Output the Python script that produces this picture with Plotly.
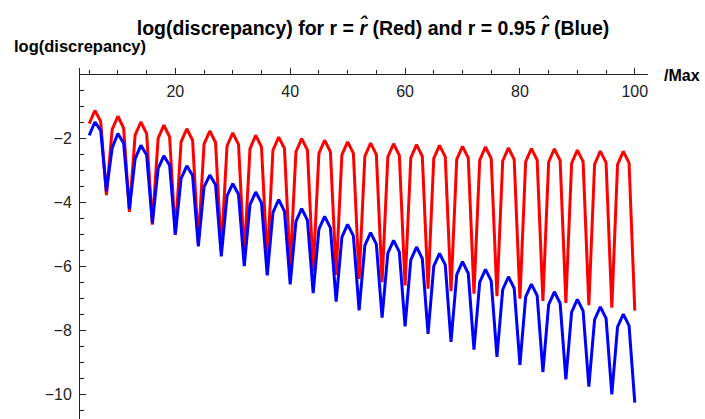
import numpy as np
import plotly.graph_objects as go

# x = 5 .. 100
x_vals = list(range(5, 101))

red_vals = [
    -1.54, -1.13, -1.47, -3.78,
    -1.72, -1.31, -1.68, -4.30,
    -1.90, -1.49, -1.85, -4.70,
    -2.00, -1.59, -1.95, -5.02,
    -2.11, -1.70, -2.06, -5.28,
    -2.18, -1.77, -2.13, -5.50,
    -2.24, -1.83, -2.19, -5.70,
    -2.32, -1.91, -2.27, -5.87,
    -2.37, -1.96, -2.32, -6.03,
    -2.42, -2.01, -2.37, -6.16,
    -2.47, -2.06, -2.42, -6.27,
    -2.52, -2.11, -2.47, -6.40,
    -2.56, -2.15, -2.51, -6.50,
    -2.58, -2.17, -2.53, -6.60,
    -2.61, -2.20, -2.56, -6.70,
    -2.63, -2.22, -2.58, -6.78,
    -2.66, -2.25, -2.61, -6.86,
    -2.68, -2.27, -2.63, -6.94,
    -2.71, -2.30, -2.66, -7.02,
    -2.73, -2.32, -2.68, -7.09,
    -2.74, -2.33, -2.69, -7.15,
    -2.78, -2.37, -2.73, -7.22,
    -2.81, -2.40, -2.76, -7.30,
    -2.82, -2.41, -2.77, -7.39,
]

blue_vals = [
    -1.91, -1.49, -1.75, -3.66,
    -2.30, -1.85, -2.15, -4.21,
    -2.64, -2.22, -2.52, -4.65,
    -2.95, -2.55, -2.84, -5.01,
    -3.26, -2.86, -3.16, -5.38,
    -3.52, -3.15, -3.45, -5.69,
    -3.80, -3.42, -3.75, -6.00,
    -4.07, -3.68, -4.02, -6.29,
    -4.32, -3.92, -4.28, -6.57,
    -4.60, -4.20, -4.56, -6.84,
    -4.84, -4.44, -4.80, -7.11,
    -5.09, -4.69, -5.05, -7.38,
    -5.35, -4.95, -5.31, -7.61,
    -5.59, -5.19, -5.55, -7.88,
    -5.80, -5.40, -5.76, -8.12,
    -6.00, -5.60, -5.96, -8.37,
    -6.26, -5.86, -6.22, -8.61,
    -6.50, -6.10, -6.46, -8.84,
    -6.73, -6.33, -6.69, -9.09,
    -6.96, -6.56, -6.92, -9.31,
    -7.20, -6.80, -7.16, -9.54,
    -7.44, -7.04, -7.40, -9.77,
    -7.67, -7.27, -7.63, -10.01,
    -7.90, -7.50, -7.86, -10.27,
]

x_tick_vals = [20, 40, 60, 80, 100]
y_tick_vals = [-10, -8, -6, -4, -2]

FONT = "Liberation Sans, Arial, Helvetica, sans-serif"
AXIS_COLOR = "#222222"

fig = go.Figure()
fig.add_trace(go.Scatter(x=x_vals, y=red_vals, mode="lines",
                         line=dict(color="#ff0000", width=3), showlegend=False))
fig.add_trace(go.Scatter(x=x_vals, y=blue_vals, mode="lines",
                         line=dict(color="#0000ff", width=3), showlegend=False))

W, H = 705, 419
ml, mr, mt, mb = 80, 57, 67.6, 0
plot_h = H - mt - mb
y_lo, y_hi = -10.78, 0.2
x_lo, x_hi = 3.4, 102.3
zero_pos = (0 - y_lo) / (y_hi - y_lo)

fig.update_layout(
    width=W, height=H,
    margin=dict(l=ml, r=mr, t=mt, b=mb, pad=0),
    paper_bgcolor="white", plot_bgcolor="white",
    font=dict(family=FONT, color="#222222"),
    title=dict(
        text="log(discrepancy) for r = <i>r\u0302</i> (Red) and r = 0.95 <i>r\u0302</i> (Blue)",
        x=373 / W, xanchor="center", y=1 - 28 / H, yanchor="middle",
        font=dict(family=FONT, size=19.5, color="black", weight="bold"),
    ),
    xaxis=dict(
        range=[x_lo, x_hi], anchor="free", position=zero_pos, side="bottom",
        showline=True, linecolor=AXIS_COLOR, linewidth=1,
        showgrid=False, zeroline=False,
        tickmode="array", tickvals=x_tick_vals,
        ticks="inside", ticklen=6, tickcolor=AXIS_COLOR, tickwidth=1,
        tickfont=dict(size=16, color="#222222", family=FONT),
        ticklabelstandoff=2,
        minor=dict(tickvals=list(np.arange(5, 101, 5)), ticks="inside",
                   ticklen=4, tickcolor=AXIS_COLOR, tickwidth=1, showgrid=False),
    ),
    yaxis=dict(
        range=[y_lo, y_hi], anchor="x", side="left",
        showline=True, linecolor=AXIS_COLOR, linewidth=1,
        showgrid=False, zeroline=False,
        tickmode="array", tickvals=y_tick_vals,
        ticktext=["\u221210", "\u22128", "\u22126", "\u22124", "\u22122"],
        ticks="inside", ticklen=6, tickcolor=AXIS_COLOR, tickwidth=1,
        tickfont=dict(size=16, color="#222222", family=FONT),
        ticklabelstandoff=4,
        minor=dict(tickvals=list(np.arange(-10.5, 0.01, 0.5)), ticks="inside",
                   ticklen=4, tickcolor=AXIS_COLOR, tickwidth=1, showgrid=False),
    ),
    annotations=[
        dict(text="<b>log(discrepancy)</b>", xref="paper", yref="paper",
             x=(12 - ml) / (W - ml - mr), y=(H - 46) / plot_h,
             xanchor="left", yanchor="middle", showarrow=False,
             font=dict(family=FONT, size=16.5, color="black")),
        dict(text="<b>/Max</b>", xref="paper", yref="paper",
             x=(662 - ml) / (W - ml - mr), y=(H - 75) / plot_h,
             xanchor="left", yanchor="middle", showarrow=False,
             font=dict(family=FONT, size=16, color="black")),
    ],
)

fig.write_html(
    "out.html",
    config={"displayModeBar": False},
    post_script="document.body.style.margin='0';document.body.style.padding='0';document.body.style.overflow='hidden';",
)
